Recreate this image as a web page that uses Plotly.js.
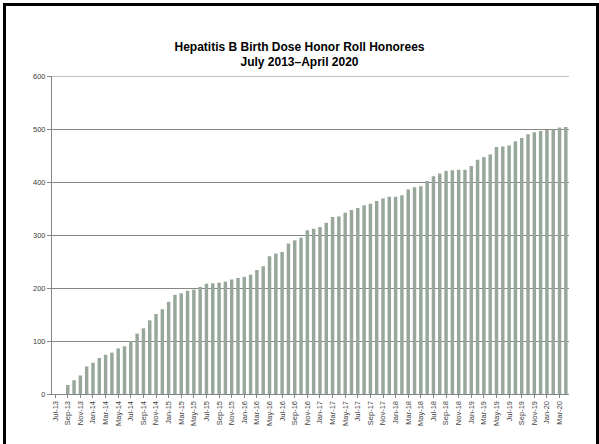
<!DOCTYPE html>
<html>
<head>
<meta charset="utf-8">
<script src="https://cdn.plot.ly/plotly-3.0.1.min.js"></script>
<style>
  html, body { margin: 0; padding: 0; background: #ffffff; }
  #wrap { position: relative; width: 599px; height: 444px; overflow: hidden; }
  #chart { position: absolute; left: 0; top: 0; width: 599px; height: 444px; }
  #frame { position: absolute; left: 3px; top: 3px; width: 590px; height: 460px;
           border: 3px solid #000; pointer-events: none; }
</style>
</head>
<body>
<div id="wrap">
  <div id="chart"></div>
  <div id="frame"></div>
</div>
<script>
// Month labels Jul-13 .. Apr-20
const categories = [
  "Jul-13","Aug-13","Sep-13","Oct-13","Nov-13","Dec-13",
  "Jan-14","Feb-14","Mar-14","Apr-14","May-14","Jun-14","Jul-14","Aug-14","Sep-14","Oct-14","Nov-14","Dec-14",
  "Jan-15","Feb-15","Mar-15","Apr-15","May-15","Jun-15","Jul-15","Aug-15","Sep-15","Oct-15","Nov-15","Dec-15",
  "Jan-16","Feb-16","Mar-16","Apr-16","May-16","Jun-16","Jul-16","Aug-16","Sep-16","Oct-16","Nov-16","Dec-16",
  "Jan-17","Feb-17","Mar-17","Apr-17","May-17","Jun-17","Jul-17","Aug-17","Sep-17","Oct-17","Nov-17","Dec-17",
  "Jan-18","Feb-18","Mar-18","Apr-18","May-18","Jun-18","Jul-18","Aug-18","Sep-18","Oct-18","Nov-18","Dec-18",
  "Jan-19","Feb-19","Mar-19","Apr-19","May-19","Jun-19","Jul-19","Aug-19","Sep-19","Oct-19","Nov-19","Dec-19",
  "Jan-20","Feb-20","Mar-20","Apr-20"
];
const honorees = [
  0, 0, 17, 26, 35, 52,
  59, 68, 74, 78, 86, 90, 100, 114, 124, 139, 151, 160,
  174, 187, 190, 195, 197, 202, 208, 209, 210, 212, 216, 219,
  221, 225, 234, 241, 260, 265, 268, 284, 290, 295, 309, 312,
  315, 323, 334, 335, 342, 347, 351, 356, 359, 364, 369, 372,
  372, 375, 386, 390, 392, 402, 411, 416, 421, 422, 423, 423,
  430, 442, 447, 452, 466, 467, 469, 477, 483, 490, 494, 496,
  498, 499, 503, 504
];
const xTickLabels = categories.filter((c, i) => i % 2 === 0);
const yTicks = [0, 100, 200, 300, 400, 500, 600];

const trace = {
  type: "bar",
  x: categories,
  y: honorees,
  marker: { color: "#97a89a", line: { width: 0 } },
  hoverinfo: "x+y"
};

const layout = {
  width: 599,
  height: 444,
  paper_bgcolor: "#ffffff",
  plot_bgcolor: "#ffffff",
  margin: { l: 52, r: 30, t: 76, b: 50, pad: 0 },
  bargap: 0.45,
  showlegend: false,
  font: { family: "Liberation Sans, Arial, sans-serif", color: "#404040" },
  title: {
    text: "<b>Hepatitis B Birth Dose Honor Roll Honorees<br>July 2013\u2013April 2020</b>",
    font: { family: "Liberation Sans, Arial, sans-serif", size: 12, color: "#000000" },
    x: 0.5, xanchor: "center",
    y: 0.886, yanchor: "middle"
  },
  shapes: [{
    type: "line", xref: "paper", yref: "y",
    x0: 0, x1: 1, y0: yTicks[yTicks.length - 1], y1: yTicks[yTicks.length - 1],
    line: { color: "#868686", width: 1 }, layer: "below"
  }],
  xaxis: {
    type: "category",
    tickmode: "array",
    tickvals: xTickLabels,
    ticktext: xTickLabels,
    tickangle: -90,
    tickfont: { size: 7.5, color: "#404040" },
    showline: true,
    linecolor: "#868686",
    linewidth: 1,
    ticks: "outside",
    ticklen: 3,
    tickcolor: "#868686",
    showgrid: false,
    zeroline: false,
    fixedrange: true
  },
  yaxis: {
    range: [0, 600],
    tickmode: "array",
    tickvals: yTicks,
    ticktext: yTicks.map(String),
    tickfont: { size: 7.5, color: "#404040" },
    showline: true,
    linecolor: "#868686",
    linewidth: 1,
    ticks: "outside",
    ticklen: 4,
    tickcolor: "#868686",
    showgrid: true,
    gridcolor: "#868686",
    gridwidth: 1,
    zeroline: false,
    fixedrange: true
  }
};

Plotly.newPlot("chart", [trace], layout, { displayModeBar: false, staticPlot: true });
</script>
</body>
</html>
